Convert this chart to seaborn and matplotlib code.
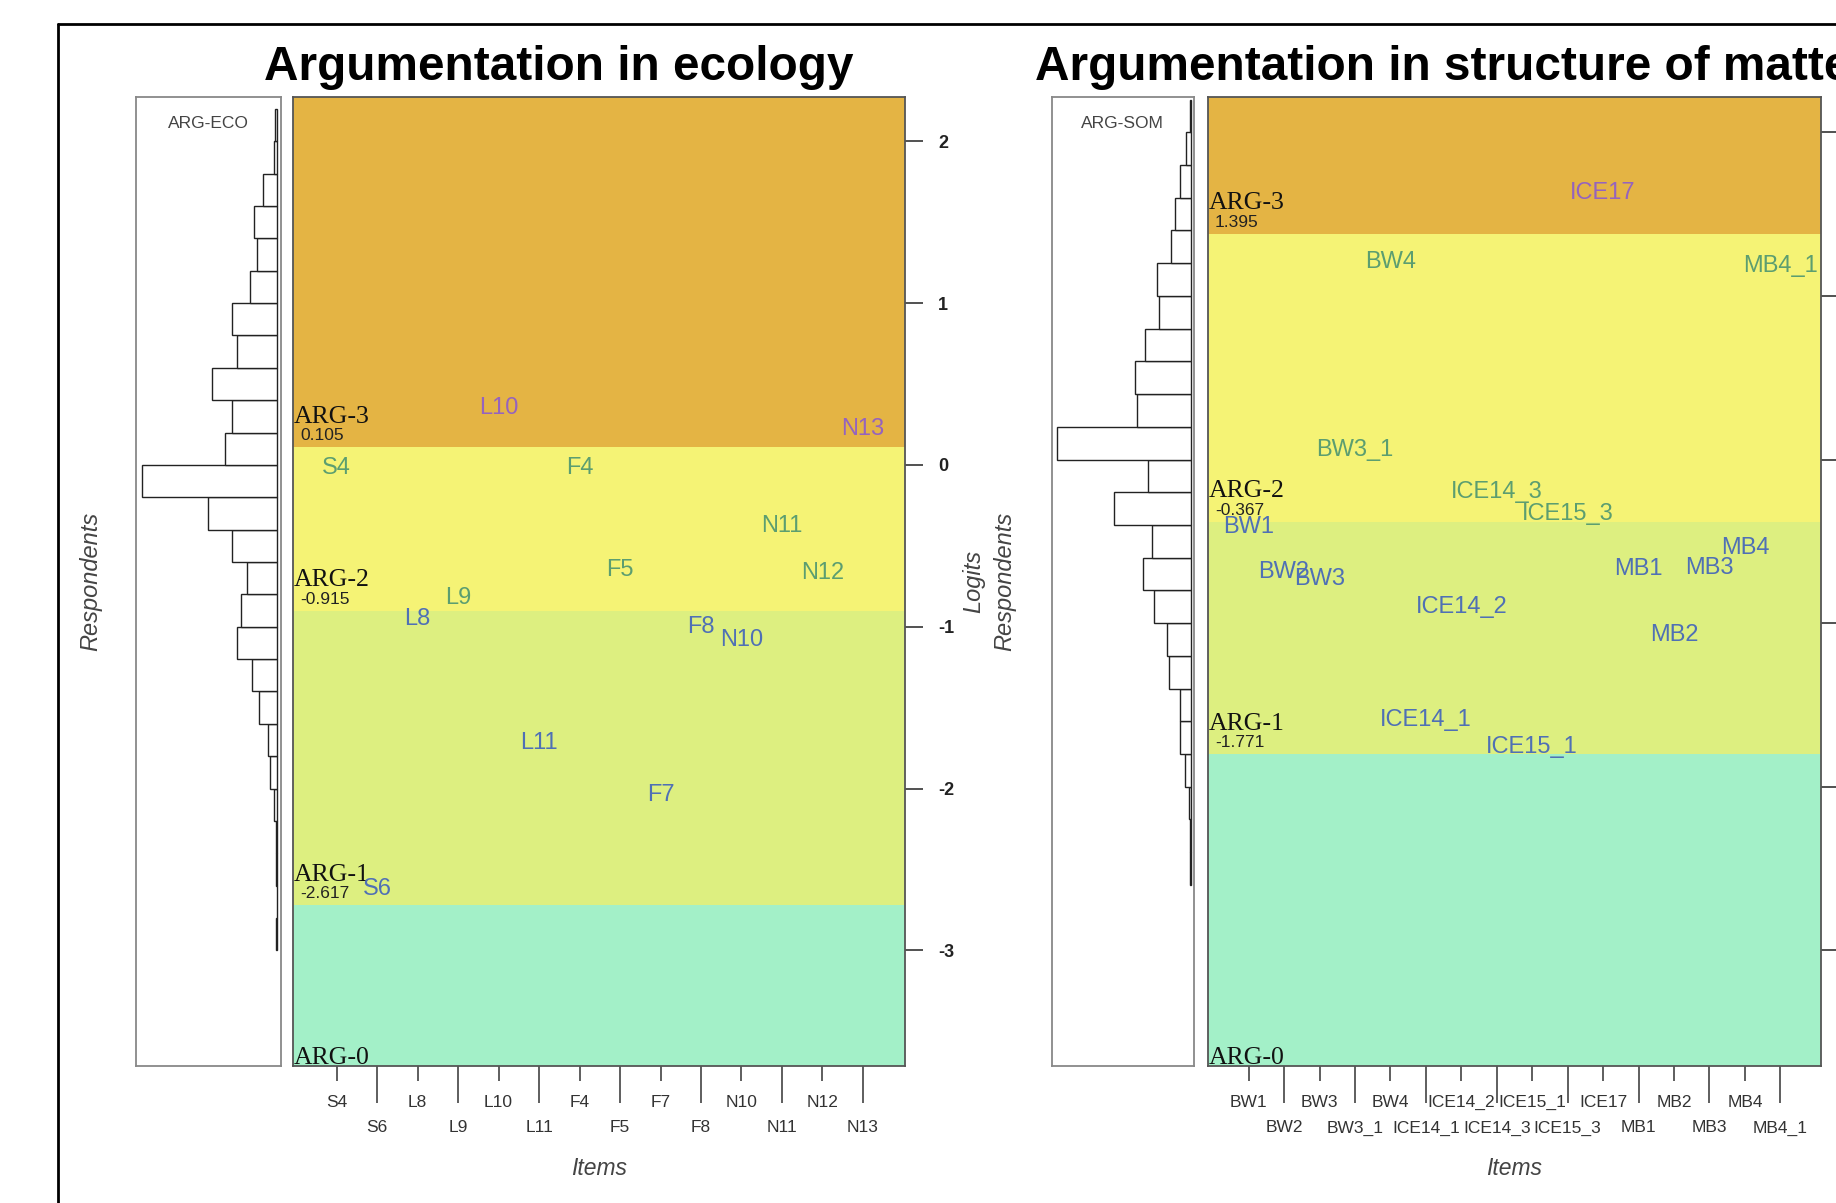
import numpy as np
import pandas as pd
import matplotlib.pyplot as plt
import seaborn as sns

sns.set_style("white")
plt.rcParams["font.family"] = ["Liberation Sans", "DejaVu Sans"]
plt.rcParams["axes.unicode_minus"] = False

SANS = ["Liberation Sans", "DejaVu Sans"]
SERIF = ["Liberation Serif", "DejaVu Serif"]

# ---------------- data: ecology ----------------
eco_items = ["S4", "S6", "L8", "L9", "L10", "L11", "F4", "F5", "F7", "F8",
             "N10", "N11", "N12", "N13"]
eco_item_logits = [-0.02, -2.62, -0.95, -0.82, 0.35, -1.72, -0.02, -0.65,
                   -2.04, -1.00, -1.08, -0.38, -0.67, 0.22]
eco_item_level = [2, 1, 1, 2, 3, 1, 2, 2, 1, 1, 1, 2, 2, 3]
eco_threshold_text = ["0.105", "-0.915", "-2.617"]
eco_band_edges = [0.11, -0.90, -2.72]
eco_bin_lower = [-3.0, -2.8, -2.6, -2.4, -2.2, -2.0, -1.8, -1.6, -1.4, -1.2,
                 -1.0, -0.8, -0.6, -0.4, -0.2, 0.0, 0.2, 0.4, 0.6, 0.8, 1.0,
                 1.2, 1.4, 1.6, 1.8, 2.0]
eco_counts = [1, 0, 1, 1, 3, 7, 9, 19, 26, 41, 37, 31, 46, 70, 136, 53,
              46, 66, 41, 46, 28, 21, 24, 14, 3, 2]

# ---------------- data: structure of matter ----------------
som_items = ["BW1", "BW2", "BW3", "BW3_1", "BW4", "ICE14_1", "ICE14_2",
             "ICE14_3", "ICE15_1", "ICE15_3", "ICE17", "MB1", "MB2", "MB3",
             "MB4", "MB4_1"]
som_item_logits = [-0.41, -0.69, -0.73, 0.06, 1.21, -1.59, -0.90, -0.20,
                   -1.76, -0.33, 1.63, -0.67, -1.07, -0.66, -0.54, 1.18]
som_item_level = [1, 1, 1, 2, 2, 1, 1, 2, 1, 2, 3, 1, 1, 1, 1, 2]
som_threshold_text = ["1.395", "-0.367", "-1.771"]
som_band_edges = [1.38, -0.38, -1.80]
som_bin_lower = [-2.6, -2.4, -2.2, -2.0, -1.8, -1.6, -1.4, -1.2, -1.0, -0.8,
                 -0.6, -0.4, -0.2, 0.0, 0.2, 0.4, 0.6, 0.8, 1.0, 1.2, 1.4,
                 1.6, 1.8, 2.0]
som_counts = [1, 1, 2, 6, 11, 11, 22, 24, 37, 48, 39, 78, 43, 135, 54, 56,
              46, 32, 34, 20, 16, 11, 5, 1]

level_names = ["ARG-3", "ARG-2", "ARG-1"]
band_colors = ["#E4B444", "#F5F375", "#DDEF80", "#A3F0C8"]  # top -> bottom
item_colors = {1: "#4F70B5", 2: "#5C9E70", 3: "#9563BE"}

W, H = 1836, 1203
fig = plt.figure(figsize=(W / 100, H / 100), dpi=100)


def box(x0, y0, x1, y1):
    return [x0 / W, 1 - y1 / H, (x1 - x0) / W, (y1 - y0) / H]


def wright_map(hbox, mbox, tag, items, logits, levels, thr_text, edges,
               bin_lower, counts, ylim, xlim, item_size, show_logits=True):
    ax_h = fig.add_axes(box(*hbox))
    ax_m = fig.add_axes(box(*mbox))

    # respondents histogram
    df = pd.DataFrame({"logit": np.array(bin_lower) + 0.1, "n": counts})
    lo = bin_lower[0]
    hi = round(bin_lower[-1] + 0.2, 1)
    sns.histplot(data=df, y="logit", weights="n", binwidth=0.2,
                 binrange=(lo, hi), ax=ax_h, color="white",
                 edgecolor="#222222", linewidth=1.0, alpha=1.0)
    m = max(counts)
    ax_h.set_xlim(1.042 * m, -0.026 * m)
    ax_h.set_ylim(*ylim)
    ax_h.set_xticks([])
    ax_h.set_yticks([])
    ax_h.set_xlabel("")
    ax_h.set_ylabel("")
    for s in ax_h.spines.values():
        s.set_color("#888888")
        s.set_linewidth(1.3)
    ax_h.text(0.5, 1 - 26 / 969, tag, transform=ax_h.transAxes,
              ha="center", va="center", fontsize=12.5, color="#444444",
              family=SANS)

    # bands
    bounds = [ylim[1]] + list(edges) + [ylim[0]]
    for i, c in enumerate(band_colors):
        ax_m.axhspan(bounds[i + 1], bounds[i], color=c, lw=0, zorder=0)

    # threshold labels
    for name, txt, e in zip(level_names, thr_text, edges):
        ax_m.annotate(name, xy=(0, e), xycoords=("axes fraction", "data"),
                      xytext=(0.5, 17.5), textcoords="offset points",
                      ha="left", va="baseline", fontsize=18.5,
                      family=SERIF, color="#111111")
        ax_m.annotate(txt, xy=(0, e), xycoords=("axes fraction", "data"),
                      xytext=(5, 5), textcoords="offset points",
                      ha="left", va="baseline", fontsize=12.5,
                      family=SANS, color="#222222")
    ax_m.annotate("ARG-0", xy=(0, 0), xycoords="axes fraction",
                  xytext=(0.5, 1.5), textcoords="offset points",
                  ha="left", va="baseline", fontsize=18.5, family=SERIF,
                  color="#111111")

    # items
    pos = np.arange(1, len(items) + 1)
    for x, y, name, lv in zip(pos, logits, items, levels):
        ax_m.text(x, y, name, ha="center", va="center", fontsize=item_size,
                  family=SANS, color=item_colors[lv])

    ax_m.set_xlim(*xlim)
    ax_m.set_ylim(*ylim)
    ax_m.set_xticks(pos[::2], items[::2])
    ax_m.set_xticks(pos[1::2], items[1::2], minor=True)
    ax_m.tick_params(axis="x", which="major", bottom=True, length=10.6,
                     width=1.1, pad=10.0, colors="#333333", labelsize=12.5)
    ax_m.tick_params(axis="x", which="minor", bottom=True, length=26.6,
                     width=1.1, pad=12.6, colors="#333333", labelsize=12.5)
    ax_m.yaxis.tick_right()
    ax_m.set_yticks(range(-3, 3))
    ax_m.tick_params(axis="y", right=True, left=False, length=13, width=1.1,
                     pad=11, colors="#222222", labelsize=13,
                     labelright=show_logits)
    for lab in ax_m.get_yticklabels():
        lab.set_fontweight("bold")
    for s in ax_m.spines.values():
        s.set_color("#555555")
        s.set_linewidth(1.3)
    ax_m.set_xlabel("")
    ax_m.set_ylabel("")
    return ax_h, ax_m


wright_map((136, 97, 281, 1066), (293, 97, 905, 1066), "ARG-ECO",
           eco_items, eco_item_logits, eco_item_level, eco_threshold_text,
           eco_band_edges, eco_bin_lower, eco_counts,
           (-3.715, 2.274), (-0.08, 15.04), 17)
# the right map runs past the picture edge, its logit labels are not visible
wright_map((1051.5, 97, 1194.3, 1066), (1208, 97, 1821, 1066), "ARG-SOM",
           som_items, som_item_logits, som_item_level, som_threshold_text,
           som_band_edges, som_bin_lower, som_counts,
           (-3.707, 2.216), (-0.145, 17.145), 17, show_logits=False)

# axis titles
ymid = 1 - 581.5 / H
lab_kw = dict(rotation=90, ha="center", va="center", fontsize=17,
              style="italic", color="#444444")
fig.text(91 / W, ymid, "Respondents", **lab_kw)
fig.text(974 / W, ymid, "Logits", **lab_kw)
fig.text(1004.6 / W, ymid, "Respondents", **lab_kw)
fig.text(599 / W, 1 - 1168.6 / H, "Items", ha="center", va="center",
         fontsize=16.5, style="italic", color="#444444")
fig.text(1514.5 / W, 1 - 1168.6 / H, "Items", ha="center", va="center",
         fontsize=16.5, style="italic", color="#444444")

# panel titles
fig.text(558.5 / W, 1 - 79.6 / H, "Argumentation in ecology", ha="center",
         va="baseline", fontsize=34.4, fontweight="bold", color="black")
fig.text(1035 / W, 1 - 79.6 / H, "Argumentation in structure of matter",
         ha="left", va="baseline", fontsize=34.4, fontweight="bold",
         color="black")

# outer frame (continues past the right and bottom edges)
fig.add_artist(plt.Line2D([58 / W, 1.01], [1 - 24 / H] * 2, color="black",
                          lw=2, transform=fig.transFigure))
fig.add_artist(plt.Line2D([58 / W] * 2, [1 - 24 / H, -0.01], color="black",
                          lw=2, transform=fig.transFigure))

fig.savefig("out.png", dpi=100, facecolor="white")
